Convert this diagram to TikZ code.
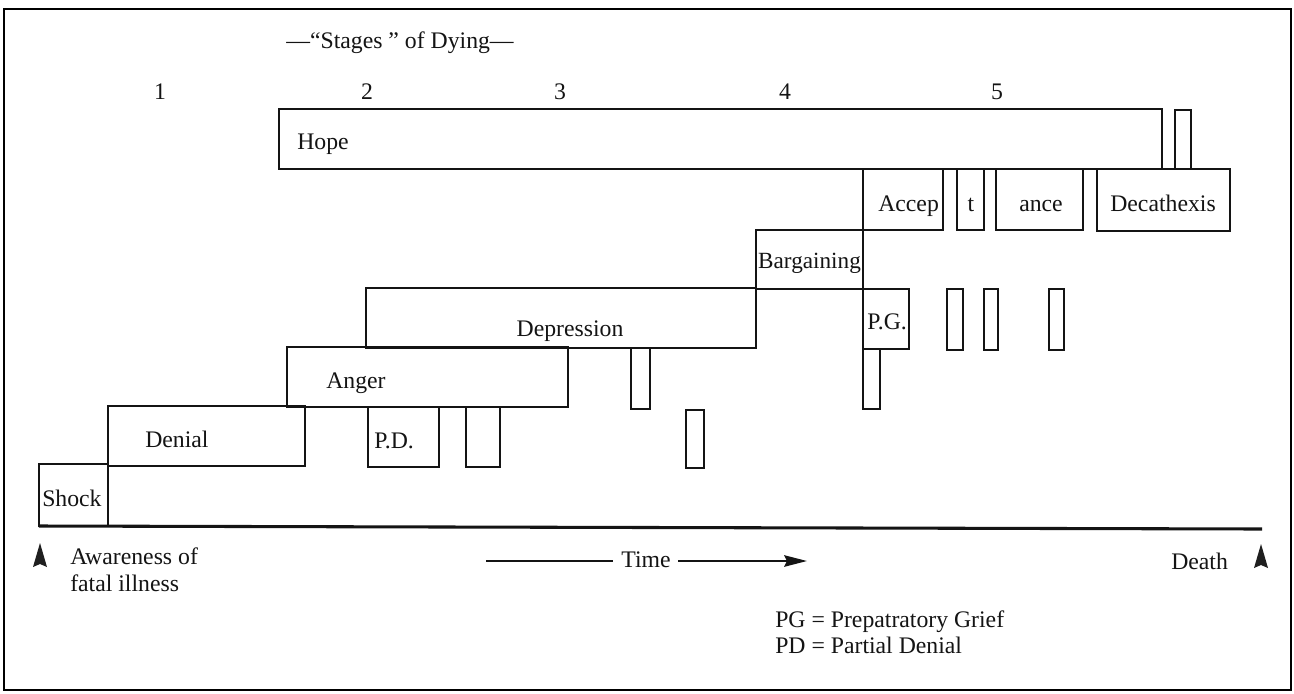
\documentclass[tikz,border=0pt]{standalone}
\usepackage{fontspec}
\setmainfont{Liberation Serif}
\usetikzlibrary{arrows.meta}
\begin{document}
\begin{tikzpicture}[x=0.75pt,y=-0.75pt,
  boxline/.style={draw=black!92, line width=1.6pt, line join=miter},
  lbl/.style={inner sep=0pt, anchor=base west, text=black!92, font=\fontsize{17.8}{21}\selectfont},
  clbl/.style={lbl, anchor=base},
  timeline/.style={draw=black!92, line width=2.3pt},
  tick/.style={fill=black!88}]
% page and frame
\fill[white] (0,0) rectangle (1294,693);
\useasboundingbox (0,0) rectangle (1294,693);
\draw[line width=1.5pt] (4,9) rectangle (1291,690);

% heading and stage numbers
\node[clbl] (title) at (400,48) {—“Stages ” of Dying—};
\node[clbl] (n1) at (160,99) {1};
\node[clbl] (n2) at (367,99) {2};
\node[clbl] (n3) at (560,99) {3};
\node[clbl] (n4) at (785,99) {4};
\node[clbl] (n5) at (997,99) {5};

% hope runs across almost the whole course
\draw[boxline] (279,109) rectangle (1162,169);
\draw[boxline] (1175,110) rectangle (1191,169);
\node[lbl] (hope) at (297,149) {Hope};

% acceptance, broken into pieces, and decathexis
\draw[boxline] (863,169) rectangle (943,230);
\draw[boxline] (957,169) rectangle (984,230);
\draw[boxline] (996,169) rectangle (1083,230);
\draw[boxline] (1097,169) rectangle (1230,231);
\node[lbl] (accep) at (878,211) {Accep};
\node[clbl] (acct) at (971,211) {t};
\node[clbl] (ance) at (1041,211) {ance};
\node[clbl] (decath) at (1163,211) {Decathexis};

% bargaining
\draw[boxline] (756,230) rectangle (863,289);
\node[clbl, font=\fontsize{17.4}{21}\selectfont] (barg) at (809.5,268) {Bargaining};

% depression with preparatory grief
\draw[boxline] (366,288) rectangle (756,348);
\node[clbl] (depr) at (570,336) {Depression};
\draw[boxline] (863,289) rectangle (909,349);
\node[lbl] (pg) at (867,329) {P.G.};
\draw[boxline] (947,289) rectangle (963,350);
\draw[boxline] (984,289) rectangle (998,350);
\draw[boxline] (1049,289) rectangle (1064,350);
\draw[boxline] (863,349) rectangle (880,409);
\draw[boxline] (631,348) rectangle (650,409);
\draw[boxline] (686,410) rectangle (704,468);

% anger
\draw[boxline] (287,347) rectangle (568,407);
\node[lbl] (anger) at (326,388) {Anger};

% denial with partial denial
\draw[boxline] (108,406) rectangle (305,466);
\node[lbl] (denial) at (145,447) {Denial};
\draw[boxline] (368,407) rectangle (439,467);
\node[lbl] (pd) at (374,448) {P.D.};
\draw[boxline] (466,407) rectangle (500,467);

% shock
\draw[boxline] (39,464) rectangle (108,526);
\node[lbl] (shock) at (42,506) {Shock};

% time axis
\coordinate (axL) at (39,526);
\coordinate (axR) at (1262,529);
\draw[timeline] (axL) -- (axR);

% end markers
\fill[tick] (33,567) -- (40,543) -- (47,567) -- (40,564) -- cycle;
\fill[tick] (1254,568) -- (1261,544) -- (1268,568) -- (1261,565) -- cycle;
\node[lbl] (aware) at (70,564) {Awareness of};
\node[lbl] (fatal) at (70,591) {fatal illness};
\node[lbl] (death) at (1171,569) {Death};

% time arrow
\node[clbl] (time) at (646,567) {Time};
\coordinate (ta) at (486,561);
\coordinate (tb) at (613,561);
\coordinate (tc) at (678,561);
\coordinate (td) at (807,561);
\draw[line width=1.9pt, black!92] (ta) -- (tb);
\draw[line width=1.9pt, black!92, -{Stealth[length=17pt, width=8.5pt, inset=2pt]}] (tc) -- (td);

% key
\node[lbl] (keypg) at (775,627) {PG = Prepatratory Grief};
\node[lbl] (keypd) at (775,653) {PD = Partial Denial};
\end{tikzpicture}
\end{document}
